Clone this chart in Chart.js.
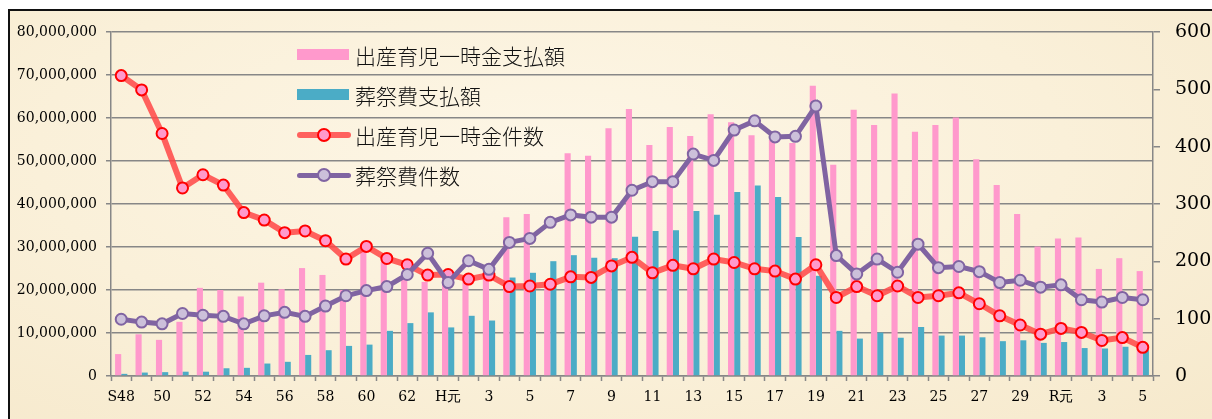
<!DOCTYPE html>
<html>
<head>
<meta charset="utf-8">
<title>出産育児一時金・葬祭費の推移</title>
<style>
    body { margin: 0; background: #fff; }
    #frame {
        position: absolute; left: 8px; top: 9px; width: 1204px; height: 410px;
        box-sizing: border-box; border-left: 2px solid #111; border-top: 2px solid #111;
        background: radial-gradient(ellipse at 45% 35%, #fdf6e6 0%, #faf0d9 55%, #f6e9cc 100%);
    }
    #chart { position: absolute; left: 0; top: 0; }
    #legend {
        position: absolute; left: 297px; top: 35px;
        font-family: "Noto Sans CJK JP", sans-serif; font-weight: 300; font-size: 21px; color: #111;
    }
    .item { display: flex; align-items: center; height: 40px; }
    .key { position: relative; width: 52px; height: 14px; margin-right: 6px; }
    .box { position: absolute; left: 0; top: 1px; width: 52px; height: 11px; }
    .ln { position: absolute; left: 0; width: 54px; border-radius: 3px; }
    .dot { position: absolute; left: 20px; top: 0px; width: 10px; height: 10px; border-radius: 50%; border: 2px solid; }
</style>
</head>
<body>
<div id="frame"></div>
<canvas id="chart" width="1212" height="419"></canvas>
<div id="legend"></div>

<script src="https://cdn.jsdelivr.net/npm/chart.js"></script>
<script>
    // S48 (1973) .. R5 (2023)
    const years = ['S48','49','50','51','52','53','54','55','56','57','58','59','60','61','62','63',
        'H元','2','3','4','5','6','7','8','9','10','11','12','13','14','15','16','17','18','19','20',
        '21','22','23','24','25','26','27','28','29','30',
        'R元','2','3','4','5'];

    // 支払額 (円)
    const birthAmount = [5100000, 9700000, 8400000, 12600000, 20500000, 20000000, 18500000, 21700000,
        20200000, 25100000, 23500000, 20000000, 29300000, 26600000, 23500000, 21900000,
        24000000, 22300000, 23100000, 36900000, 37700000, 21500000, 51800000, 51200000, 57600000, 62100000,
        53700000, 57900000, 55800000, 60900000, 59000000, 56000000, 54900000, 54200000, 67500000, 49100000,
        61900000, 58400000, 65700000, 56800000, 58400000, 60100000, 50400000, 44400000, 37700000, 30100000,
        32000000, 32200000, 24900000, 27400000, 24400000];
    const funeralAmount = [500000, 800000, 900000, 1000000, 1000000, 1800000, 1900000, 2900000,
        3300000, 4900000, 6000000, 7000000, 7300000, 10500000, 12300000, 14800000,
        11300000, 14000000, 12900000, 22900000, 24000000, 26700000, 28100000, 27500000, 27400000, 32400000,
        33700000, 33900000, 38400000, 37500000, 42800000, 44300000, 41600000, 32300000, 23300000, 10500000,
        8700000, 10100000, 8900000, 11400000, 9400000, 9400000, 9000000, 8100000, 8300000, 7700000,
        7900000, 6500000, 6400000, 6800000, 6000000];

    // 件数
    const birthCount = [524, 499, 423, 328, 351, 333, 285, 272, 250, 253, 236, 204, 226, 205, 194, 176,
        177, 169, 176, 156, 157, 160, 173, 172, 192, 207,
        180, 193, 187, 204, 198, 187, 183, 169, 194, 137,
        156, 140, 157, 137, 140, 145, 126, 105, 89, 73,
        83, 76, 62, 67, 50];
    const funeralCount = [99, 94, 91, 109, 106, 104, 91, 105, 111, 104, 122, 140, 149, 156, 177, 214,
        163, 201, 186, 233, 240, 268, 281, 277, 277, 324,
        339, 339, 387, 376, 429, 445, 417, 418, 471, 210,
        178, 204, 181, 230, 189, 191, 182, 163, 167, 155,
        159, 133, 129, 137, 133];

    const pink = '#ff99cc', teal = '#4bacc6';
    const gridGrey = '#878787';
    const numFont = { family: '"DejaVu Serif", serif', size: 14 };

    const datasets = [
        { type: 'line', label: '葬祭費件数', data: funeralCount, yAxisID: 'y1', order: 0,
          borderColor: '#8064a2', borderWidth: 5, tension: 0,
          pointRadius: 5.5, pointBackgroundColor: '#ccc0da', pointBorderColor: '#8064a2', pointBorderWidth: 2 },
        { type: 'line', label: '出産育児一時金件数', data: birthCount, yAxisID: 'y1', order: 1,
          borderColor: 'rgba(255,70,70,0.85)', borderWidth: 6, tension: 0,
          pointRadius: 5.5, pointBackgroundColor: pink, pointBorderColor: '#ff0000', pointBorderWidth: 2 },
        { type: 'bar', label: '出産育児一時金支払額', data: birthAmount, yAxisID: 'y', order: 2,
          backgroundColor: pink, categoryPercentage: 0.6, barPercentage: 1.0 },
        { type: 'bar', label: '葬祭費支払額', data: funeralAmount, yAxisID: 'y', order: 2,
          backgroundColor: teal, categoryPercentage: 0.6, barPercentage: 1.0 }
    ];

    new Chart(document.getElementById('chart'), {
        data: { labels: years, datasets: datasets },
        options: {
            responsive: false,
            animation: false,
            devicePixelRatio: 1,
            layout: { padding: { top: 32, left: 0, right: 0, bottom: 0 } },
            plugins: { legend: { display: false }, tooltip: { enabled: false } },
            scales: {
                x: {
                    grid: { drawOnChartArea: false, offset: true, tickLength: 5, tickColor: gridGrey, tickWidth: 1.5 },
                    border: { color: gridGrey, width: 1.5 },
                    ticks: {
                        autoSkip: false, maxRotation: 0, padding: 8, color: '#000', font: numFont,
                        callback: (v, i) => i % 2 === 0 ? years[i] : ''
                    },
                    afterFit: s => { s.height = 43; }
                },
                y: {
                    position: 'left', min: 0, max: 80000000,
                    grid: { color: gridGrey, lineWidth: 1.5, tickLength: 5 },
                    border: { color: gridGrey, width: 1.5 },
                    ticks: { stepSize: 10000000, padding: 9, color: '#000', font: numFont,
                        callback: v => v.toLocaleString('en-US') },
                    afterFit: s => { s.width = 111; }
                },
                y1: {
                    position: 'right', min: 0, max: 600,
                    grid: { drawOnChartArea: false, tickLength: 7, color: gridGrey, lineWidth: 1.5 },
                    border: { color: gridGrey, width: 1.5 },
                    ticks: { stepSize: 100, padding: 15, color: '#000',
                        font: { family: '"DejaVu Serif", serif', size: 19 } },
                    afterFit: s => { s.width = 59; }
                }
            }
        }
    });

    // legend in the order of the original chart
    const legendOrder = [2, 3, 1, 0];
    const legend = document.getElementById('legend');
    legendOrder.forEach(k => {
        const ds = datasets[k];
        const item = document.createElement('div');
        item.className = 'item';
        const key = document.createElement('div');
        key.className = 'key';
        if (ds.type === 'bar') {
            key.innerHTML = '<div class="box" style="background:' + ds.backgroundColor + '"></div>';
        } else {
            const h = ds.borderWidth;
            key.innerHTML = '<div class="ln" style="top:' + (7 - h / 2) + 'px;height:' + h + 'px;background:' + ds.borderColor + '"></div>' +
                '<div class="dot" style="background:' + ds.pointBackgroundColor + ';border-color:' + ds.pointBorderColor + '"></div>';
        }
        const txt = document.createElement('span');
        txt.textContent = ds.label;
        item.appendChild(key);
        item.appendChild(txt);
        legend.appendChild(item);
    });
</script>
</body>
</html>
